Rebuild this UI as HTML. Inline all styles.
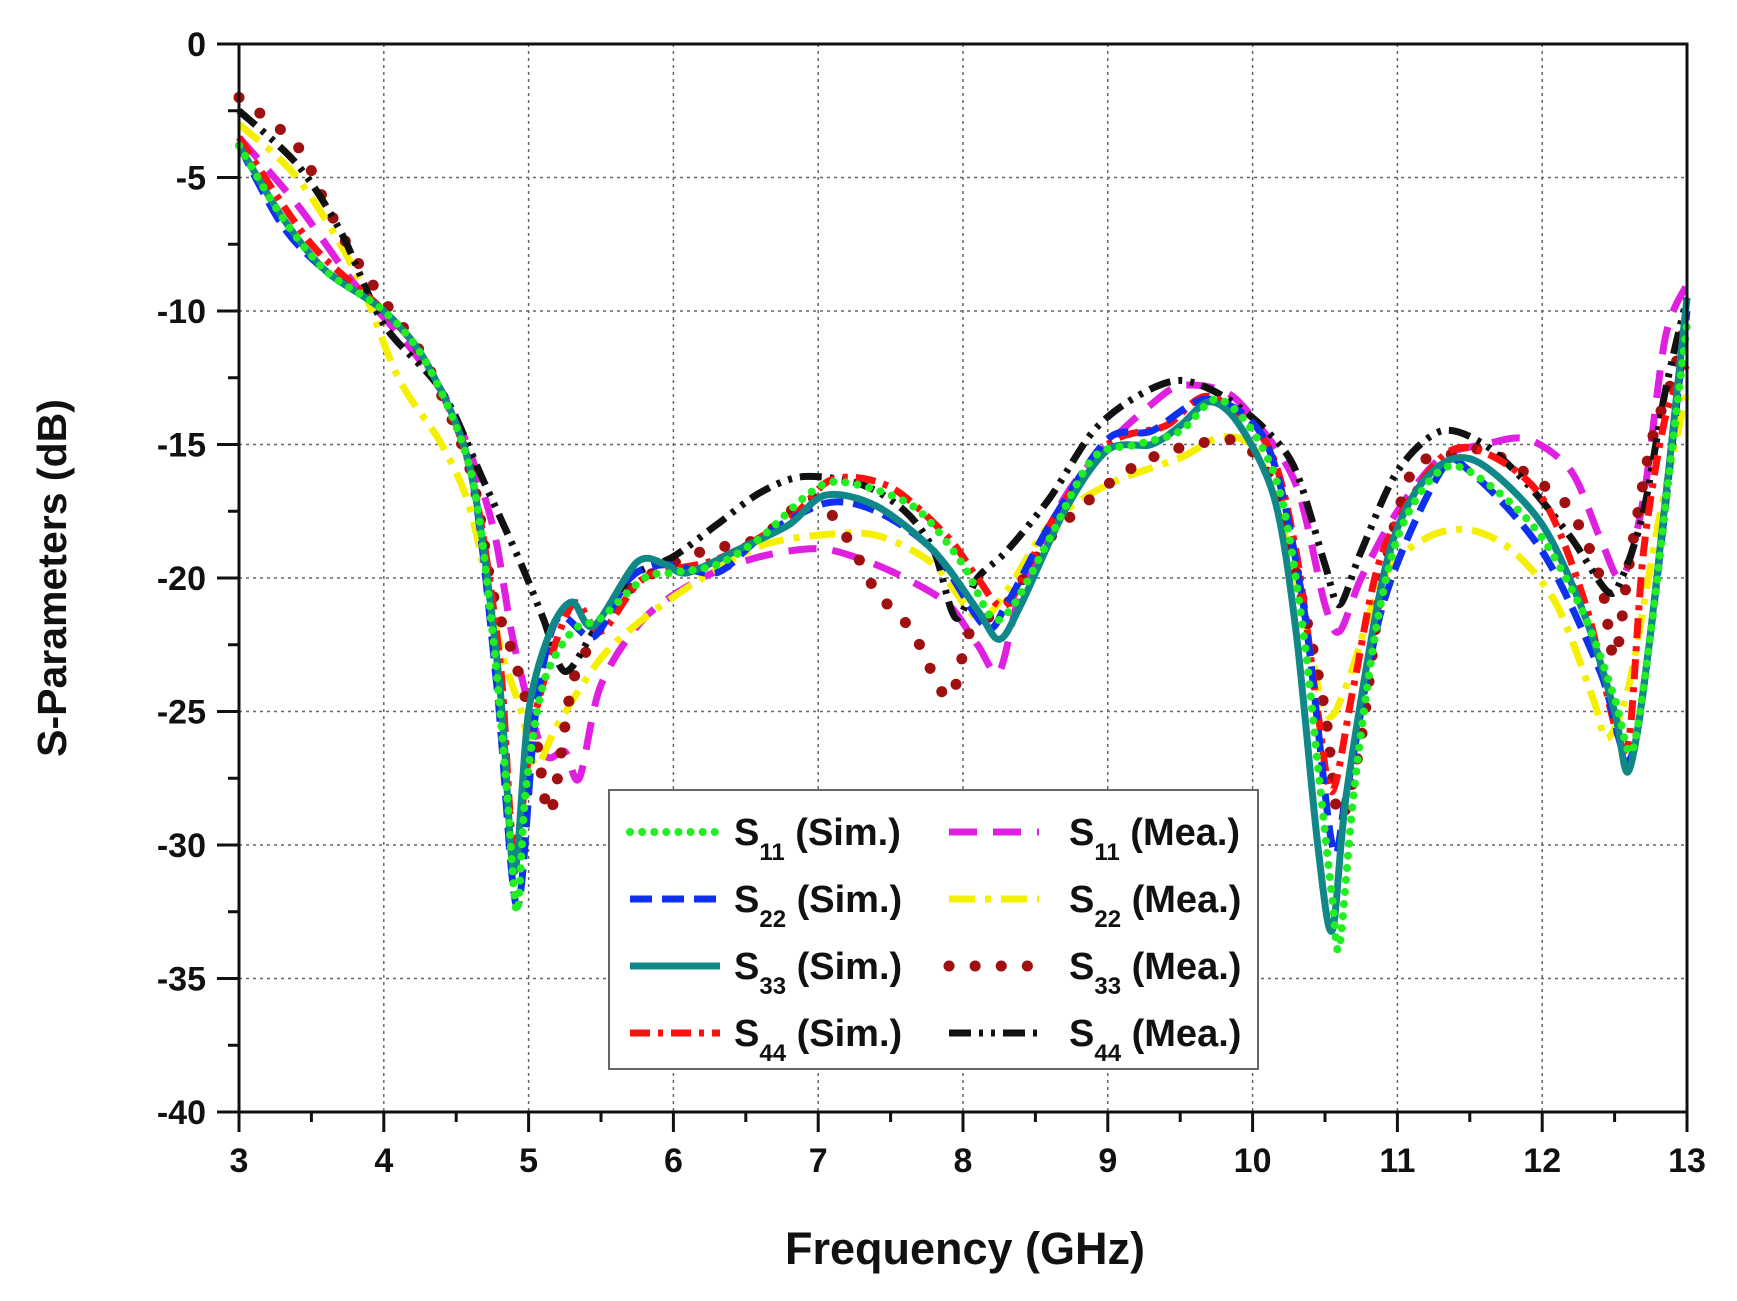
<!DOCTYPE html>
<html><head><meta charset="utf-8"><style>
html,body{margin:0;padding:0;background:#fff;}
svg{display:block;font-family:"Liberation Sans",Arial,sans-serif;font-weight:bold;}
</style></head><body>
<svg id="s" width="1737" height="1301" viewBox="0 0 1737 1301" xmlns="http://www.w3.org/2000/svg">
<g id="grid"></g>
<g id="series" fill="none" stroke-width="6"></g>
<g id="axes"></g>
<g id="legend"></g>
<text x="965" y="1264" font-size="45" text-anchor="middle" fill="#111">Frequency (GHz)</text>
<text transform="translate(66,578) rotate(-90)" font-size="41" text-anchor="middle" fill="#111">S-Parameters (dB)</text>
</svg>
<script>
var L=239,R=1687,T=44,B=1112;
function X(f){return L+(f-3)*(R-L)/10;}
function Y(d){return T+(-d)*(B-T)/40;}
var NS="http://www.w3.org/2000/svg";
function el(p,t,a,txt){var e=document.createElementNS(NS,t);for(var k in a)e.setAttribute(k,a[k]);if(txt!==undefined)e.textContent=txt;document.getElementById(p).appendChild(e);return e;}
for(var f=4;f<13;f++)el("grid","line",{x1:X(f),x2:X(f),y1:T,y2:B,stroke:"#666","stroke-width":1.5,"stroke-dasharray":"3,4"});
for(var d=-5;d>-40;d-=5)el("grid","line",{x1:L,x2:R,y1:Y(d),y2:Y(d),stroke:"#666","stroke-width":1.5,"stroke-dasharray":"3,4"});
el("axes","rect",{x:L,y:T,width:R-L,height:B-T,fill:"none",stroke:"#111","stroke-width":3});
for(var f=3;f<=13;f++){el("axes","line",{x1:X(f),x2:X(f),y1:B,y2:B+20,stroke:"#111","stroke-width":3});
el("axes","text",{x:X(f),y:B+60,"font-size":34,"text-anchor":"middle",fill:"#111"},String(f));
if(f<13)el("axes","line",{x1:X(f+0.5),x2:X(f+0.5),y1:B,y2:B+10,stroke:"#111","stroke-width":3});}
for(var d=0;d>=-40;d-=5){el("axes","line",{x1:L-22,x2:L,y1:Y(d),y2:Y(d),stroke:"#111","stroke-width":3});
el("axes","text",{x:206,y:Y(d)+12,"font-size":34,"text-anchor":"end",fill:"#111"},String(d));
if(d>-40)el("axes","line",{x1:L-11,x2:L,y1:Y(d-2.5),y2:Y(d-2.5),stroke:"#111","stroke-width":3});}
function path(pts){var p=pts.map(function(a){return[X(a[0]),Y(a[1])];});var s="M"+p[0][0]+","+p[0][1];
for(var i=0;i<p.length-1;i++){var p0=p[i>0?i-1:i],p1=p[i],p2=p[i+1],p3=p[i+2<p.length?i+2:i+1];var t=0.15;
s+=" C"+(p1[0]+(p2[0]-p0[0])*t)+","+(p1[1]+(p2[1]-p0[1])*t)+" "+(p2[0]-(p3[0]-p1[0])*t)+","+(p2[1]-(p3[1]-p1[1])*t)+" "+p2[0]+","+p2[1];}return s;}
var S=[
{c:"#e020e0",da:"28,16",lc:"butt",d:[[3,-3.5],[3.4,-6],[3.8,-9],[4.2,-11.5],[4.5,-14],[4.75,-18],[4.9,-22.5],[5.1,-26.5],[5.25,-26.5],[5.35,-27.5],[5.5,-24],[5.8,-21.5],[6.2,-20],[6.6,-19.2],[7,-18.9],[7.3,-19.3],[7.6,-20],[7.9,-21],[8.1,-22.5],[8.25,-23.5],[8.4,-20.5],[8.7,-17],[9,-15],[9.3,-13.5],[9.5,-12.8],[9.8,-13],[10,-14],[10.3,-16.5],[10.5,-21],[10.6,-22],[10.75,-20],[11,-17.5],[11.3,-15.5],[11.6,-15],[11.9,-14.8],[12.2,-16],[12.4,-18.5],[12.55,-20],[12.7,-17],[12.85,-11],[13,-9]]},
{c:"#f5f000",da:"26,10,6,10",lc:"butt",d:[[3,-3],[3.4,-5],[3.8,-8.5],[4.1,-12.5],[4.4,-15],[4.6,-17.5],[4.8,-22.5],[4.95,-25],[5.05,-27],[5.2,-25.5],[5.5,-23],[5.8,-21.5],[6.2,-20],[6.6,-18.8],[7,-18.4],[7.4,-18.4],[7.8,-19.5],[8.1,-21.5],[8.3,-20.5],[8.6,-18],[9,-16.5],[9.5,-15.5],[9.8,-14.7],[10.05,-15.5],[10.3,-20],[10.5,-25],[10.65,-24],[10.9,-20],[11.2,-18.5],[11.5,-18.2],[11.8,-19],[12.1,-21],[12.35,-24.5],[12.45,-26],[12.6,-24],[12.8,-18],[13,-13]]},
{c:"#a01010",da:"0.1,26",lc:"round",w:11,d:[[3,-2],[3.4,-3.8],[3.6,-6],[3.8,-8],[4.05,-10],[4.3,-12],[4.6,-16],[4.75,-20.5],[4.9,-23],[5.05,-26],[5.15,-28.8],[5.3,-24],[5.45,-22.3],[5.6,-21],[5.8,-20],[6.2,-19],[6.6,-18.5],[6.95,-17],[7.2,-18.5],[7.4,-20.5],[7.65,-22],[7.9,-24.5],[8.05,-22],[8.3,-21],[8.6,-18.5],[9,-16.5],[9.3,-15.5],[9.6,-15],[9.9,-14.9],[10.15,-16.5],[10.35,-21],[10.5,-25],[10.6,-29],[10.75,-26],[10.9,-20],[11.1,-16],[11.3,-15.5],[11.6,-15.2],[12,-16.5],[12.2,-17.5],[12.4,-20],[12.5,-23],[12.6,-19.5],[12.75,-15],[12.9,-12.5],[13,-10]]},
{c:"#111",da:"22,8,4,8,4,8",lc:"butt",d:[[3,-2.5],[3.4,-4.5],[3.7,-7],[4,-10.5],[4.4,-13],[4.7,-16.5],[4.95,-19.5],[5.1,-21.5],[5.25,-23.5],[5.45,-22],[5.7,-20],[6,-19.2],[6.3,-18],[6.6,-16.8],[6.9,-16.2],[7.3,-16.5],[7.6,-17.5],[7.8,-19],[7.95,-21.5],[8.1,-20],[8.3,-19],[8.6,-17],[8.9,-14.5],[9.2,-13.2],[9.5,-12.6],[9.8,-13.2],[10.1,-14.5],[10.3,-16],[10.5,-19.5],[10.6,-21],[10.75,-19],[11,-16],[11.3,-14.5],[11.6,-15],[11.9,-16.5],[12.2,-18.5],[12.45,-20.5],[12.55,-20],[12.7,-17.5],[12.85,-13],[13,-9.5]]},
{c:"#ff1010",da:"20,8,5,8",lc:"butt",d:[[3,-3.5],[3.5,-7.5],[4,-10],[4.3,-12],[4.6,-16],[4.8,-23],[4.9,-30],[5.05,-25],[5.3,-21],[5.5,-22],[5.8,-20],[6.3,-19.3],[6.8,-17.8],[7.1,-16.3],[7.5,-16.6],[7.9,-18.5],[8.1,-20],[8.3,-21],[8.6,-18],[9,-15],[9.4,-14.3],[9.7,-13.2],[10.1,-15],[10.3,-19],[10.45,-25],[10.55,-28],[10.7,-24],[10.9,-19],[11.3,-15.5],[11.6,-15.3],[12,-17],[12.3,-21],[12.5,-25.5],[12.6,-26],[12.7,-19],[12.85,-14],[13,-12]]},
{c:"#1030f0",da:"22,10",lc:"butt",d:[[3,-3.8],[3.3,-6.8],[3.6,-8.5],[4,-10],[4.3,-12],[4.6,-16],[4.78,-24],[4.92,-32.3],[5.05,-25],[5.2,-21.5],[5.45,-22.2],[5.7,-20],[5.95,-19.5],[6.3,-19.8],[6.6,-18.5],[7.05,-17.2],[7.4,-17.5],[7.8,-19],[8.15,-21.8],[8.3,-21],[8.6,-18],[9,-14.8],[9.3,-14.5],[9.7,-13.3],[10.1,-15],[10.35,-21],[10.55,-30],[10.65,-28],[10.9,-21],[11.3,-16],[11.5,-16],[12,-19],[12.4,-23.5],[12.6,-26.8],[12.75,-22],[13,-10]]},
{c:"#108888",da:"",lc:"butt",d:[[3,-3.8],[3.3,-6.5],[3.6,-8.5],[4,-10],[4.3,-12],[4.6,-16],[4.8,-24],[4.9,-31],[5,-25],[5.15,-22],[5.3,-20.9],[5.45,-21.8],[5.75,-19.4],[5.95,-19.5],[6.1,-19.8],[6.5,-18.8],[6.8,-18],[7.05,-16.9],[7.4,-17.3],[7.8,-19],[8.1,-21.2],[8.25,-22.3],[8.4,-21],[8.7,-17.5],[9,-15.2],[9.3,-15],[9.5,-14.3],[9.7,-13.4],[9.9,-14.2],[10.15,-17],[10.3,-22],[10.45,-30],[10.55,-33.2],[10.65,-28],[10.9,-20],[11.1,-17],[11.35,-15.6],[11.6,-15.8],[12,-18],[12.3,-21.5],[12.5,-25],[12.6,-27.2],[12.75,-22],[13,-9.5]]},
{c:"#22ee22",da:"0.1,12",lc:"round",w:8,d:[[3,-3.8],[3.3,-6.5],[3.6,-8.5],[4,-10],[4.3,-12],[4.6,-16],[4.75,-22],[4.85,-28],[4.92,-32.5],[4.98,-28],[5.1,-24],[5.3,-22],[5.5,-21.5],[5.8,-20],[6,-19.8],[6.3,-19.5],[6.6,-18.5],[6.9,-17],[7.1,-16.4],[7.4,-16.7],[7.7,-17.5],[8,-19.5],[8.2,-21.5],[8.35,-21],[8.6,-18.5],[8.9,-15.5],[9.2,-15],[9.5,-14.5],[9.75,-13.3],[10,-14.5],[10.2,-17],[10.35,-22],[10.45,-27],[10.55,-32],[10.6,-33.8],[10.7,-28],[10.85,-22],[11,-18.5],[11.2,-16.5],[11.4,-15.8],[11.7,-16.8],[12,-18.5],[12.3,-21.5],[12.5,-24.5],[12.62,-26.5],[12.75,-22],[12.9,-15],[13,-10.5]]}
];
S.forEach(function(s){el("series","path",{d:path(s.d),stroke:s.c,"stroke-width":(s.w||7),"stroke-dasharray":s.da,"stroke-linecap":s.lc,"stroke-linejoin":"round"});});
el("legend","rect",{x:609,y:790,width:649,height:279,fill:"#fff",stroke:"#666","stroke-width":2});
var LG=[["#22ee22","0.1,12","round",8,"11","Sim."],["#1030f0","22,10","butt",7,"22","Sim."],["#108888","","butt",7,"33","Sim."],["#ff1010","20,8,5,8","butt",7,"44","Sim."],
["#e020e0","28,16","butt",7,"11","Mea."],["#f5f000","26,10,6,10","butt",7,"22","Mea."],["#a01010","0.1,26","round",11,"33","Mea."],["#111","22,8,4,8,4,8","butt",7,"44","Mea."]];
LG.forEach(function(g,i){var col=i<4?0:1,row=i%4;var x0=col?943:624,y=832+row*67;
el("legend","line",{x1:x0+6,x2:x0+96,y1:y,y2:y,stroke:g[0],"stroke-width":g[3],"stroke-dasharray":g[1],"stroke-linecap":g[2]});
var t=el("legend","text",{x:x0+(col?126:110),y:y+13,"font-size":38,fill:"#111"});
t.innerHTML='S<tspan font-size="24" dy="15">'+g[4]+'</tspan><tspan dy="-15"> ('+g[5]+')</tspan>';});
</script>
</body></html>
